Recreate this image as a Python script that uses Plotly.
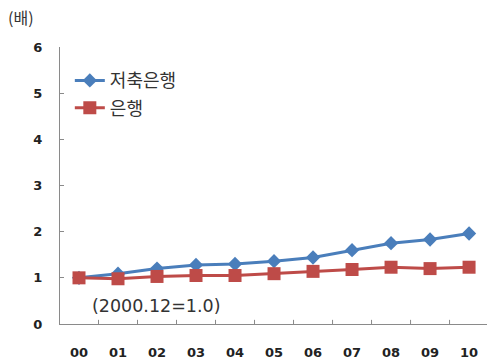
import plotly.graph_objects as go

years = ["00", "01", "02", "03", "04", "05", "06", "07", "08", "09", "10"]
savings_banks = [1.00, 1.09, 1.20, 1.28, 1.30, 1.36, 1.44, 1.60, 1.75, 1.83, 1.96]
banks = [1.00, 0.98, 1.03, 1.05, 1.05, 1.09, 1.14, 1.18, 1.23, 1.20, 1.23]
y_ticks = [0, 1, 2, 3, 4, 5, 6]

BLUE = "#4A7EBB"
RED = "#BE4B48"
FONT = "Noto Sans CJK KR"

fig = go.Figure()
fig.add_trace(go.Scatter(
    x=list(range(len(years))), y=savings_banks, name="저축은행",
    mode="lines+markers", legendgroup="a",
    line=dict(color=BLUE, width=3),
    marker=dict(symbol="diamond", size=11, color=BLUE),
))
fig.add_trace(go.Scatter(
    x=list(range(len(years))), y=banks, name="은행",
    mode="lines+markers", legendgroup="b",
    line=dict(color=RED, width=3),
    marker=dict(symbol="square", size=13, color=RED),
))

fig.update_layout(
    width=487, height=359,
    margin=dict(l=60, r=0, t=47, b=35),
    paper_bgcolor="white", plot_bgcolor="white",
    font=dict(family=FONT, color="#222"),
    showlegend=True,
    legend=dict(
        x=0.023, y=0.945, xanchor="left", yanchor="top",
        font=dict(family=FONT, size=18, color="#333"),
        tracegroupgap=1, bgcolor="rgba(0,0,0,0)",
    ),
    xaxis=dict(
        range=[-0.487, 10.46],
        tickmode="array", tickvals=list(range(len(years))), ticktext=years,
        showgrid=False, zeroline=False,
        showline=True, linecolor="#8a8a8a", linewidth=1,
        ticks="", ticklabelstandoff=16,
        tickfont=dict(family="DejaVu Sans", size=13, color="#222", weight="bold"),
    ),
    yaxis=dict(
        range=[0, 6], tickvals=y_ticks,
        showgrid=False, zeroline=False,
        showline=True, linecolor="#8a8a8a", linewidth=1,
        ticks="inside", ticklen=4, tickcolor="#8a8a8a",
        ticklabelstandoff=14,
        tickfont=dict(family="DejaVu Sans", size=13, color="#222", weight="bold"),
    ),
    annotations=[
        dict(text="(배)", xref="paper", yref="paper", x=-0.126, y=1.108,
             xanchor="left", yanchor="middle", showarrow=False,
             font=dict(family=FONT, size=16, color="#333")),
        dict(text="(2000.12=1.0)", xref="paper", yref="y", x=0.07, y=0.39,
             xanchor="left", yanchor="middle", showarrow=False,
             font=dict(family="DejaVu Sans", size=17.5, color="#333")),
    ],
)

# Inward tick marks on the category boundaries of the x axis
for i in range(len(years) - 1):
    fig.add_shape(type="line", xref="x", yref="paper",
                  x0=i + 0.5, x1=i + 0.5, y0=0, y1=0.015,
                  line=dict(color="#8a8a8a", width=1))

fig.write_html("out.html")
